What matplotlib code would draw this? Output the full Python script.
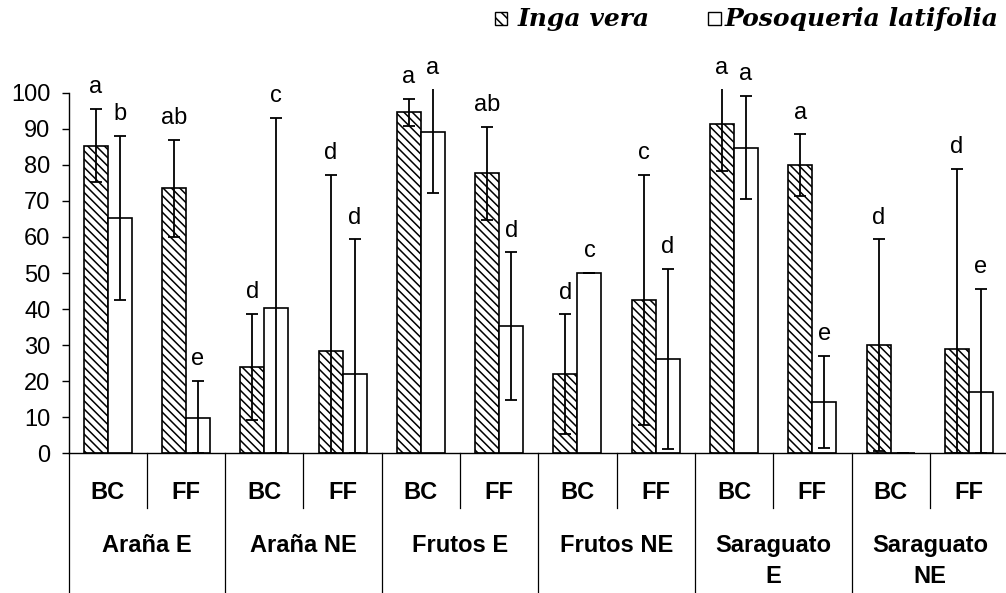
import numpy as np
import matplotlib.pyplot as plt
from matplotlib.patches import Rectangle

plt.rcParams['font.family'] = ['Liberation Sans', 'DejaVu Sans']
plt.rcParams['hatch.linewidth'] = 1.1

sites = ['BC', 'FF'] * 6
groups = ['Araña E', 'Araña NE', 'Frutos E', 'Frutos NE', 'Saraguato\nE', 'Saraguato\nNE']

inga = [85.3, 73.5, 24.0, 28.4, 94.6, 77.6, 21.9, 42.5, 91.3, 79.9, 30.0, 28.9]
inga_err = [10.2, 13.5, 14.7, 48.8, 3.7, 12.9, 16.6, 34.7, 12.9, 8.6, 29.3, 50.0]
inga_letters = ['a', 'ab', 'd', 'd', 'a', 'ab', 'd', 'c', 'a', 'a', 'd', 'd']

posoq = [65.3, 9.9, 40.3, 21.9, 89.2, 35.3, 50.1, 26.2, 84.8, 14.3, 0.0, 17.0]
posoq_err = [22.8, 10.2, 52.7, 37.4, 16.9, 20.4, 0.0, 25.0, 14.4, 12.7, 0.0, 28.6]
posoq_letters = ['b', 'e', 'c', 'd', 'a', 'd', 'c', 'd', 'a', 'e', '', 'e']

W, H = 1006, 593
fig = plt.figure(figsize=(W / 100, H / 100), dpi=100)
ax_l, ax_b, ax_w, ax_h = 68.5, 453.3, 939.6, 364.2
ax = fig.add_axes([ax_l / W, (H - ax_b) / H, ax_w / W, ax_h / H])

x = np.arange(len(inga)) + 0.5
bw = 0.3065
ymax = 101
hatch = '\\\\\\\\'

def draw(xs, vals, errs, letters, hatch):
    vals = np.array(vals)
    errs = np.array(errs)
    ax.bar(xs, vals, bw, color='white', edgecolor='black', linewidth=1.2, hatch=hatch, zorder=2)
    lower = np.minimum(errs, vals)
    ax.errorbar(xs, vals, yerr=[lower, errs], fmt='none', ecolor='black',
                elinewidth=1.3, capsize=4.6, capthick=1.3, zorder=3)
    for xi, top, lab in zip(xs, np.minimum(vals + errs, ymax), letters):
        ax.text(xi, top + 4.3, lab, ha='center', va='baseline', fontsize=17)

draw(x - bw / 2, inga, inga_err, inga_letters, hatch)
draw(x + bw / 2, posoq, posoq_err, posoq_letters, None)

ax.set_xlim(0, len(inga))
ax.set_ylim(0, ymax)
ax.set_yticks(np.arange(0, 101, 10))
ax.tick_params(axis='y', direction='out', length=5, width=1, pad=8, labelsize=17)
ax.tick_params(axis='x', length=0, labelbottom=False)
for s in ['top', 'right']:
    ax.spines[s].set_visible(False)
ax.spines['left'].set_bounds(0, 100)
ax.spines['left'].set_linewidth(1)
ax.spines['bottom'].set_linewidth(1)

# category axis below
tr = ax.get_xaxis_transform()
for i in range(len(inga) + 1):
    y0 = -0.40 if i % 2 == 0 else -0.150
    ax.plot([i, i], [0, y0], color='black', lw=0.9, transform=tr, clip_on=False)
for xi, s in zip(x, sites):
    ax.text(xi, -0.109, s, transform=tr, ha='center', va='center',
            fontsize=17, fontweight='bold')
for i, g in enumerate(groups):
    ax.text(2 * i + 1, -0.222, g, transform=tr, ha='center', va='top',
            fontsize=17, fontweight='bold', linespacing=1.45)

# legend
def fx(px):
    return px / W

def fy(py):
    return (H - py) / H

lfont = dict(family=['DejaVu Serif'], style='italic', weight='bold', fontsize=18)
fig.patches.append(Rectangle((fx(495), fy(24.5)), 12 / W, 12.5 / H, transform=fig.transFigure,
                             facecolor='white', edgecolor='black', hatch='\\\\\\', lw=1))
fig.text(fx(518), fy(26), 'Inga vera', ha='left', va='baseline', **lfont)
fig.patches.append(Rectangle((fx(708), fy(24.5)), 13 / W, 12.5 / H, transform=fig.transFigure,
                             facecolor='white', edgecolor='black', lw=1))
fig.text(fx(725), fy(26), 'Posoqueria latifolia', ha='left', va='baseline', **lfont)

plt.savefig('out.png', dpi=100)
